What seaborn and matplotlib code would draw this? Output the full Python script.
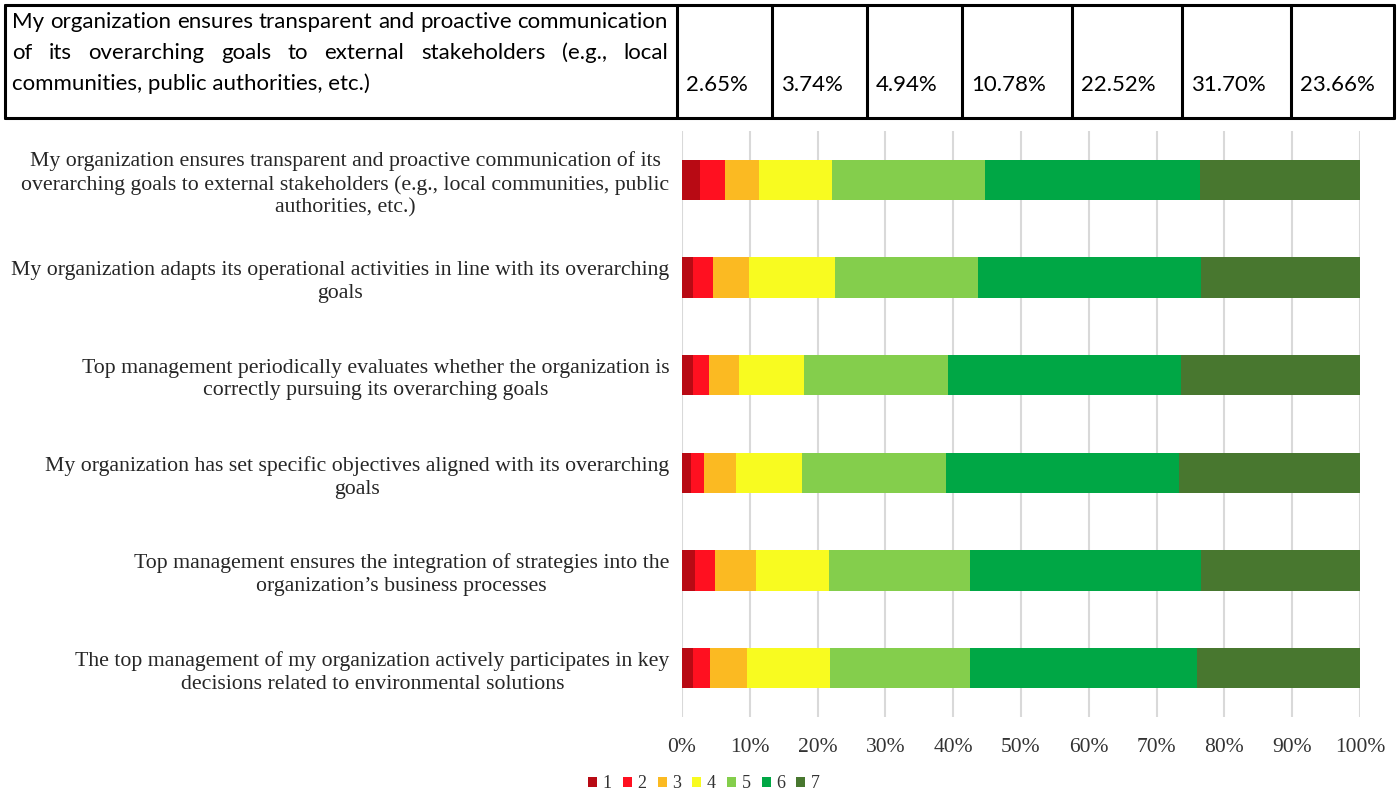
import matplotlib
matplotlib.use("Agg")
import matplotlib.pyplot as plt
from matplotlib.lines import Line2D
from matplotlib.patches import Patch
import numpy as np
import pandas as pd
import seaborn as sns

# ---- data -------------------------------------------------------------
statements = [
    "My organization ensures transparent and proactive communication of its\n"
    "overarching goals to external stakeholders (e.g., local communities, public\n"
    "authorities, etc.)",
    "My organization adapts its operational activities in line with its overarching\ngoals",
    "Top management periodically evaluates whether the organization is\n"
    "correctly pursuing its overarching goals",
    "My organization has set specific objectives aligned with its overarching\ngoals",
    "Top management ensures the integration of strategies into the\n"
    "organization\u2019s business processes",
    "The top management of my organization actively participates in key\n"
    "decisions related to environmental solutions",
]
levels = ["1", "2", "3", "4", "5", "6", "7"]
share_1 = [2.65, 1.65, 1.65, 1.30, 1.92, 1.65]
share_2 = [3.74, 2.88, 2.26, 1.99, 2.95, 2.54]
share_3 = [4.94, 5.35, 4.46, 4.74, 6.11, 5.42]
share_4 = [10.78, 12.63, 9.61, 9.68, 10.64, 12.28]
share_5 = [22.52, 21.21, 21.21, 21.21, 20.80, 20.53]
share_6 = [31.70, 32.81, 34.45, 34.45, 34.11, 33.49]
share_7 = [23.66, 23.47, 26.36, 26.63, 23.47, 24.09]

table_lines = [
    "My organization ensures transparent and proactive communication",
    "of its overarching goals to external stakeholders (e.g., local",
    "communities, public authorities, etc.)",
]
table_values = [2.65, 3.74, 4.94, 10.78, 22.52, 31.70, 23.66]

palette = ["#B80A14", "#FF1020", "#FBBA22", "#F8FB20", "#84CE4C", "#00A745", "#48772F"]

# ---- figure -------------------------------------------------------------
sns.set_theme(style="white")
plt.rcParams["font.family"] = ["Liberation Serif", "DejaVu Serif"]

W, H = 1399, 796
fig = plt.figure(figsize=(W / 100, H / 100), dpi=100)


def fx(px):
    return px / W


def fy(py):
    return 1 - py / H


# ---- stacked bar chart ---------------------------------------------------
ax = fig.add_axes([fx(682), fy(717), fx(1360) - fx(682), fy(131) - fy(717)])

shares = np.array([share_1, share_2, share_3, share_4, share_5, share_6, share_7])
cum = np.cumsum(shares, axis=0)
df = pd.DataFrame({"statement": statements})
# draw the running totals from the widest down so each level shows as a segment
for i in range(len(levels) - 1, -1, -1):
    df["cum"] = cum[i]
    sns.barplot(data=df, x="cum", y="statement", orient="h", color=palette[i],
                saturation=1, width=0.41, ax=ax, linewidth=0, zorder=3)

ax.set_xlim(0, 100)
ax.set_ylim(len(statements) - 0.5, -0.5)
ax.set_xticks(np.arange(0, 101, 10))
ax.set_xticklabels([f"{v}%" for v in range(0, 101, 10)], fontsize=15.5, color="#333333")
ax.set_yticks(range(len(statements)))
ax.set_yticklabels(statements, fontsize=15.7, color="#262626", multialignment="center")
for t in ax.get_yticklabels():
    t.set_linespacing(1.27)
ax.tick_params(axis="x", length=0, pad=15)
ax.tick_params(axis="y", length=0, pad=9)
ax.set_xlabel("")
ax.set_ylabel("")
ax.grid(axis="x", color="#D9D9D9", linewidth=1.5, zorder=0)
ax.grid(axis="y", visible=False)
for s in ax.spines.values():
    s.set_visible(False)
ax.set_axisbelow(True)

handles = [Patch(facecolor=c, edgecolor="none") for c in palette]
fig.legend(handles, levels, loc="center", bbox_to_anchor=(fx(704), fy(784)),
           ncol=7, frameon=False, fontsize=13, handlelength=0.5, handleheight=0.45,
           handletextpad=0.3, columnspacing=0.62, labelcolor="#333333")

# ---- summary table row --------------------------------------------------------
col_edges = [5, 677, 772, 867, 962, 1072, 1182, 1291, 1394]
top, bottom = 5, 118
lw = 2.2
for x in col_edges:
    fig.add_artist(Line2D([fx(x), fx(x)], [fy(top), fy(bottom)], color="black", lw=lw))
for y in (top, bottom):
    fig.add_artist(Line2D([fx(col_edges[0]), fx(col_edges[-1])], [fy(y), fy(y)],
                          color="black", lw=lw))

tfont = dict(family=["Lato", "DejaVu Sans"], fontsize=16, color="black", va="center")
line_y = [22, 53, 84]
left_px, right_px = 12, 668
renderer = fig.canvas.get_renderer()
for k, (line, y) in enumerate(zip(table_lines, line_y)):
    if k == len(table_lines) - 1:
        fig.text(fx(left_px), fy(y), line, ha="left", **tfont)
        continue
    # justified line: spread the words across the cell width
    words = line.split(" ")
    arts = [fig.text(0, fy(y), w, ha="left", **tfont) for w in words]
    widths = [a.get_window_extent(renderer).width for a in arts]
    gap = (right_px - left_px - sum(widths)) / (len(words) - 1)
    xpos = left_px
    for a, w in zip(arts, widths):
        a.set_x(fx(xpos))
        xpos += w + gap

for i, v in enumerate(table_values):
    fig.text(fx(col_edges[i + 1] + 9), fy(85), f"{v:.2f}%", ha="left", **tfont)

fig.savefig("out.png", dpi=100, facecolor="white")
